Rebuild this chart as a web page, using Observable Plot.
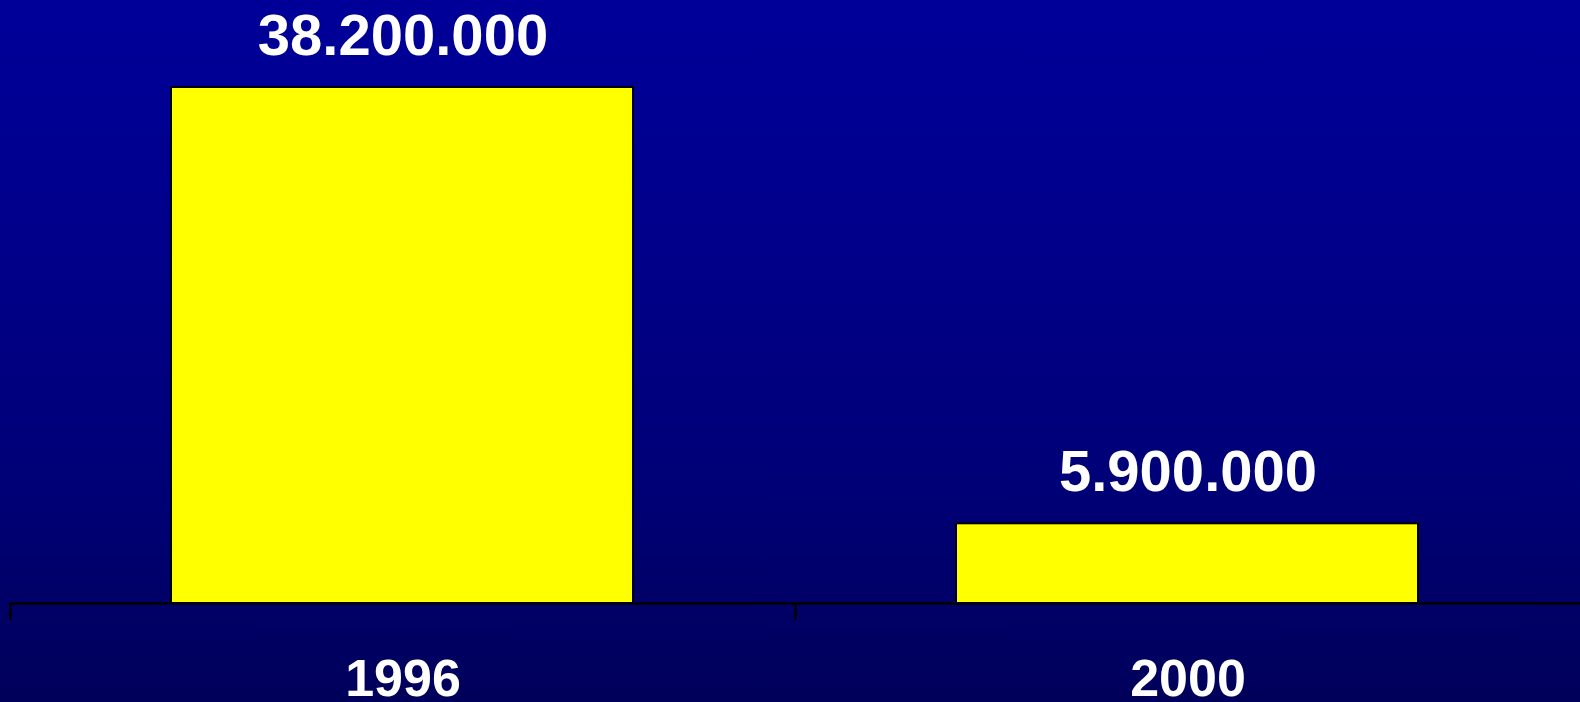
<!DOCTYPE html>
<html>
<head>
<meta charset="utf-8">
<script src="https://cdn.jsdelivr.net/npm/d3@7"></script>
<script src="https://cdn.jsdelivr.net/npm/@observablehq/plot@0.6"></script>
<style>
  html, body { margin: 0; padding: 0; background: #000060; }
  #chart svg { display: block; }
</style>
</head>
<body>
<div id="chart"></div>
<script>
const years = ["1996", "2000"];
const values = [38200000, 5900000];
const valueLabels = ["38.200.000", "5.900.000"];

const data = years.map((y, i) => ({year: y, value: values[i], label: valueLabels[i]}));

const W = 1580, H = 702;
const mL = 10, mR = 0;
const step = (W - mL - mR) / years.length;

const chart = Plot.plot({
  width: W,
  height: H,
  marginLeft: mL,
  marginRight: mR,
  marginTop: 87,
  marginBottom: 99,
  style: {
    fontFamily: "'Liberation Sans', Arial, sans-serif",
    background: "linear-gradient(to bottom, #000099 0%, #00008a 35%, #000076 70%, #00005a 100%)",
    overflow: "visible"
  },
  x: {domain: years, padding: 0, axis: null},
  y: {domain: [0, 38200000], axis: null},
  marks: [
    Plot.barY(data, {x: "year", y: "value", fill: "#ffff00", stroke: "#000", strokeWidth: 2, insetLeft: 161, insetRight: 162}),
    Plot.ruleY([0], {stroke: "#000", strokeWidth: 2.5}),
    Plot.ruleX(data, {x: "year", y1: 0, y2: 0, insetBottom: -17, dx: -step / 2, stroke: "#000", strokeWidth: 2.5}),
    Plot.text(data, {x: "year", y: "value", text: "label", lineAnchor: "bottom", dy: -33, fill: "#fff", fontSize: 58, fontWeight: "bold"}),
    Plot.axisX({tickSize: 0, tickPadding: 56, fontSize: 52, fontWeight: "bold", fill: "#fff", color: "#fff", label: null})
  ]
});
document.getElementById("chart").appendChild(chart);
</script>
</body>
</html>
